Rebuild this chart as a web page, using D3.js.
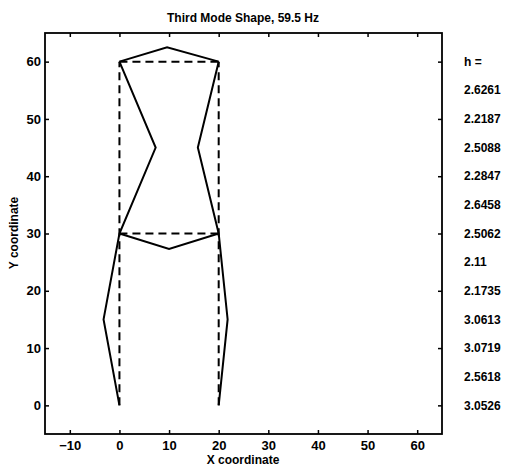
<!DOCTYPE html>
<html>
<head>
<meta charset="utf-8">
<script src="https://cdn.jsdelivr.net/npm/d3@7"></script>
<style>
  body { margin: 0; background: #fff; }
  svg text { font-family: "Liberation Sans", Arial, sans-serif; font-weight: bold; fill: #000; }
</style>
</head>
<body>
<svg id="chart" width="512" height="469"></svg>
<script>
// undeformed frame (dashed)
var undeformedSegs = [
  [[0, 0], [0, 60]],
  [[20, 0], [20, 60]],
  [[0, 30], [20, 30]],
  [[0, 60], [20, 60]]
];
// third mode shape (solid)
var modeSegs = [
  [[0, 0], [-3.2, 15], [0, 30], [7.3, 45], [0, 60]],
  [[20, 0], [21.8, 15], [20, 30], [15.8, 45], [20, 60]],
  [[0, 30], [10, 27.3], [20, 30]],
  [[0, 60], [9.6, 62.5], [20, 60]]
];
var xTicks = [-10, 0, 10, 20, 30, 40, 50, 60];
var yTicks = [0, 10, 20, 30, 40, 50, 60];
var hLabel = 'h =';
var hValues = ['2.6261', '2.2187', '2.5088', '2.2847', '2.6458', '2.5062',
               '2.11', '2.1735', '3.0613', '3.0719', '2.5618', '3.0526'];
var hLevels = [55, 50, 45, 40, 35, 30, 25, 20, 15, 10, 5, 0];

var svg = d3.select('#chart');
var x = d3.scaleLinear().domain([-15, 65]).range([45, 442]);
var y = d3.scaleLinear().domain([-5, 65]).range([434, 33]);

var line = d3.line()
  .x(function(d){ return x(d[0]); })
  .y(function(d){ return y(d[1]); });

// axes, ticks pointing inward
svg.append('g').attr('transform', 'translate(0,434)')
  .call(d3.axisBottom(x).tickValues(xTicks).tickSizeInner(-4).tickSizeOuter(0).tickPadding(7))
  .call(function(g){ g.select('.domain').remove(); g.selectAll('text').style('font-size', '13px'); });
svg.append('g').attr('transform', 'translate(0,33)')
  .call(d3.axisTop(x).tickValues(xTicks).tickSizeInner(-4).tickSizeOuter(0).tickFormat(''))
  .call(function(g){ g.select('.domain').remove(); });
svg.append('g').attr('transform', 'translate(45,0)')
  .call(d3.axisLeft(y).tickValues(yTicks).tickSizeInner(-4).tickSizeOuter(0).tickPadding(4))
  .call(function(g){ g.select('.domain').remove(); g.selectAll('text').style('font-size', '13px'); });
svg.append('g').attr('transform', 'translate(442,0)')
  .call(d3.axisRight(y).tickValues(yTicks).tickSizeInner(-4).tickSizeOuter(0).tickFormat(''))
  .call(function(g){ g.select('.domain').remove(); });
svg.selectAll('.tick line').attr('stroke', '#000').attr('stroke-width', 1.5);

svg.append('rect')
  .attr('x', 45).attr('y', 33).attr('width', 397).attr('height', 401)
  .attr('fill', 'none').attr('stroke', '#000').attr('stroke-width', 1.8);

svg.selectAll('.undeformed').data(undeformedSegs).enter().append('path')
  .attr('class', 'undeformed')
  .attr('d', line)
  .attr('fill', 'none').attr('stroke', '#000').attr('stroke-width', 2)
  .attr('stroke-dasharray', '8,5');

svg.selectAll('.mode').data(modeSegs).enter().append('path')
  .attr('class', 'mode')
  .attr('d', line)
  .attr('fill', 'none').attr('stroke', '#000').attr('stroke-width', 2)
  .attr('stroke-linejoin', 'miter');

// h values down the right side
svg.append('text')
  .attr('x', 464).attr('y', y(60)).attr('dy', '0.35em')
  .style('font-size', '12px').text(hLabel);
svg.selectAll('.hval').data(hValues).enter().append('text')
  .attr('class', 'hval')
  .attr('x', 464)
  .attr('y', function(d, i){ return y(hLevels[i]); })
  .attr('dy', '0.35em')
  .style('font-size', '12px')
  .text(function(d){ return d; });

svg.append('text')
  .attr('x', 243).attr('y', 22).attr('text-anchor', 'middle')
  .style('font-size', '12px').text('Third Mode Shape, 59.5 Hz');
svg.append('text')
  .attr('x', 243).attr('y', 464).attr('text-anchor', 'middle')
  .style('font-size', '12px').text('X coordinate');
svg.append('text')
  .attr('transform', 'translate(18,233) rotate(-90)').attr('text-anchor', 'middle')
  .style('font-size', '12px').text('Y coordinate');
</script>
</body>
</html>
